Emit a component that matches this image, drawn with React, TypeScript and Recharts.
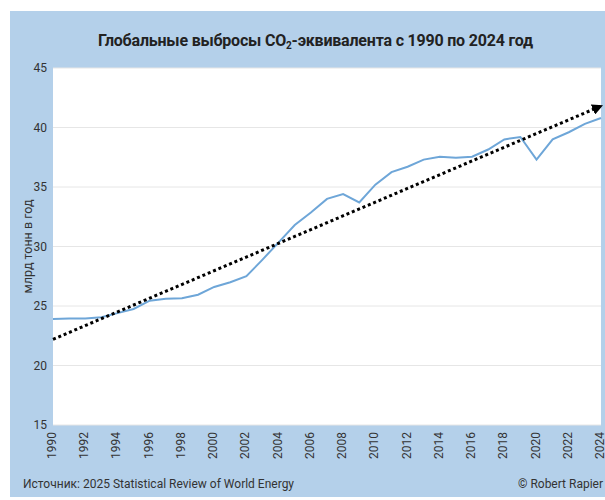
import React from 'react';
import { LineChart, Line, XAxis, YAxis, CartesianGrid } from 'recharts';

const YEARS = [
  1990, 1991, 1992, 1993, 1994, 1995, 1996, 1997, 1998, 1999, 2000, 2001, 2002, 2003, 2004, 2005, 2006,
  2007, 2008, 2009, 2010, 2011, 2012, 2013, 2014, 2015, 2016, 2017, 2018, 2019, 2020, 2021, 2022, 2023,
  2024,
];

// млрд тонн CO2-экв. в год
const EMISSIONS = [
  23.9, 23.95, 23.95, 24.05, 24.4, 24.75, 25.45, 25.6, 25.65, 25.95, 26.6, 27.0, 27.5, 28.9, 30.35,
  31.8, 32.85, 34.0, 34.4, 33.7, 35.2, 36.25, 36.7, 37.3, 37.55, 37.45, 37.55, 38.15, 39.0, 39.2, 37.3,
  39.0, 39.6, 40.3, 40.8,
];

const TREND_YEARS = [1990, 2024];
const TREND_VALUES = [22.2, 41.8];

const X_TICKS = [
  1990, 1992, 1994, 1996, 1998, 2000, 2002, 2004, 2006, 2008, 2010, 2012, 2014, 2016, 2018, 2020, 2022,
  2024,
];
const Y_TICKS = [15, 20, 25, 30, 35, 40, 45];

const BLUE_BG = '#b4d0ea';
const LINE_COLOR = '#6ea6d8';
const TEXT = '#333';
const FONT = 'Roboto, "Noto Sans", sans-serif';

const data = YEARS.map((year, i) => ({ year, value: EMISSIONS[i] }));
const trendData = TREND_YEARS.map((year, i) => ({ year, trend: TREND_VALUES[i] }));

const YearTick = (props: any) => {
  const { x, y, payload } = props;
  return (
    <g transform={`translate(${x},${y})`}>
      <text
        x={0}
        y={0}
        dy={3}
        textAnchor="end"
        transform="rotate(-90)"
        fill={TEXT}
        fontSize={12}
        fontFamily={FONT}
      >
        {payload.value}
      </text>
    </g>
  );
};

export default function App() {
  return (
    <div style={{ position: 'absolute', left: 0, top: 0, width: 605, height: 500, background: '#fff' }}>
      <div
        style={{
          position: 'absolute',
          left: 10,
          top: 11,
          width: 595,
          height: 486,
          background: BLUE_BG,
          fontFamily: FONT,
          color: TEXT,
        }}
      >
        <div
          style={{
            position: 'absolute',
            top: 19,
            left: 8,
            width: 595,
            textAlign: 'center',
            fontSize: 16,
            fontWeight: 700,
            letterSpacing: -0.2,
            color: '#222',
            lineHeight: '22px',
          }}
        >
          Глобальные выбросы CO<sub style={{ fontSize: 10, verticalAlign: -3, lineHeight: 0 }}>2</sub>
          -эквивалента с 1990 по 2024 год
        </div>

        <div style={{ position: 'absolute', left: 0, top: 0 }}>
          <LineChart width={595} height={486} margin={{ top: 57, right: 4, left: 0, bottom: 32 }}>
            <defs>
              <marker
                id="arrow"
                viewBox="0 0 10 10"
                refX="8"
                refY="5"
                markerWidth="11"
                markerHeight="11"
                markerUnits="userSpaceOnUse"
                orient="auto"
              >
                <path d="M0,0 L10,5 L0,10 z" fill="#000" />
              </marker>
            </defs>
            <CartesianGrid horizontal vertical={false} stroke="#e6e6e6" fill="#fff" />
            <XAxis
              dataKey="year"
              type="number"
              domain={[1990, 2024]}
              ticks={X_TICKS}
              interval={0}
              allowDuplicatedCategory={false}
              tickLine={false}
              axisLine={false}
              tickSize={0}
              tickMargin={7}
              height={40}
              tick={<YearTick />}
            />
            <YAxis
              type="number"
              domain={[15, 45]}
              ticks={Y_TICKS}
              width={43}
              tickLine={false}
              axisLine={false}
              tickSize={0}
              tickMargin={6}
              tick={{ fontSize: 12, fill: TEXT, fontFamily: FONT }}
              label={{
                value: 'млрд тонн в год',
                angle: -90,
                position: 'insideLeft',
                offset: 18,
                style: { textAnchor: 'middle', fontSize: 12.5, fill: TEXT, fontFamily: FONT },
              }}
            />
            <Line
              data={data}
              dataKey="value"
              type="linear"
              stroke={LINE_COLOR}
              strokeWidth={2}
              dot={false}
              isAnimationActive={false}
            />
            <Line
              data={trendData}
              dataKey="trend"
              type="linear"
              stroke="#000"
              strokeWidth={3}
              strokeDasharray="3 2.8"
              dot={false}
              markerEnd="url(#arrow)"
              isAnimationActive={false}
            />
          </LineChart>
        </div>

        <div style={{ position: 'absolute', left: 13, top: 466, fontSize: 12 }}>
          Источник: 2025 Statistical Review of World Energy
        </div>
        <div style={{ position: 'absolute', right: 2, top: 466, fontSize: 12 }}>© Robert Rapier</div>
      </div>
    </div>
  );
}
